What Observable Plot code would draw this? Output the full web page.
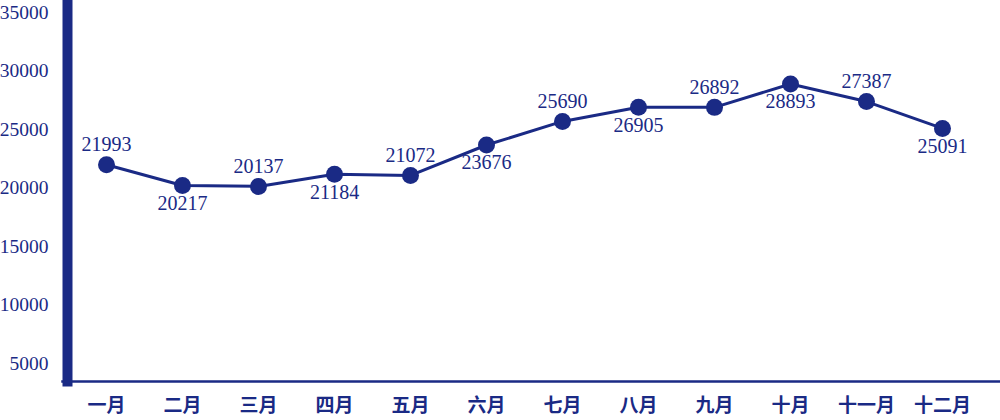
<!DOCTYPE html>
<html>
<head>
<meta charset="utf-8">
<script src="https://cdn.jsdelivr.net/npm/d3@7"></script>
<script src="https://cdn.jsdelivr.net/npm/@observablehq/plot@0.6"></script>
<style>
  html, body { margin: 0; padding: 0; background: #fff; }
  #chart svg { overflow: visible; display: block; }
</style>
</head>
<body>
<div id="chart"></div>
<script>
const months = ["一月","二月","三月","四月","五月","六月","七月","八月","九月","十月","十一月","十二月"];
const values = [21993, 20217, 20137, 21184, 21072, 23676, 25690, 26905, 26892, 28893, 27387, 25091];
const yTicks = [5000, 10000, 15000, 20000, 25000, 30000, 35000];

const navy = "#1a2a85";
const data = months.map((m, i) => ({month: m, value: values[i], above: i % 2 === 0}));

const chart = Plot.plot({
  width: 1000,
  height: 420,
  marginTop: 12,
  marginBottom: 39,
  marginLeft: 67,
  marginRight: 0,
  style: {background: "#fff"},
  x: {type: "point", domain: months, range: [104, 943], padding: 0},
  y: {domain: [3462, 35000]},
  marks: [
    Plot.axisY({
      ticks: yTicks, tickSize: 0, tickPadding: 19, label: null,
      tickFormat: d => String(d),
      fill: navy, fontSize: 19.5, fontFamily: "Liberation Serif, serif"
    }),
    Plot.axisX({
      tickSize: 0, tickPadding: 17, label: null,
      fill: navy, fontSize: 19, fontWeight: "bold",
      fontFamily: "Noto Sans CJK SC, sans-serif"
    }),
    Plot.frame({anchor: "bottom", stroke: navy, strokeWidth: 2.5, insetLeft: -5}),
    Plot.frame({anchor: "left", stroke: navy, strokeWidth: 10, insetTop: -12}),
    Plot.line(data, {x: "month", y: "value", stroke: navy, strokeWidth: 3}),
    Plot.dot(data, {x: "month", y: "value", r: 8.5, fill: navy, stroke: "none"}),
    Plot.text(data.filter(d => d.above), {x: "month", y: "value", text: d => String(d.value), dy: -20,
      fill: navy, fontSize: 20, fontFamily: "Liberation Serif, serif"}),
    Plot.text(data.filter(d => !d.above), {x: "month", y: "value", text: d => String(d.value), dy: 18,
      fill: navy, fontSize: 20, fontFamily: "Liberation Serif, serif"})
  ]
});
document.getElementById("chart").appendChild(chart);
</script>
</body>
</html>
